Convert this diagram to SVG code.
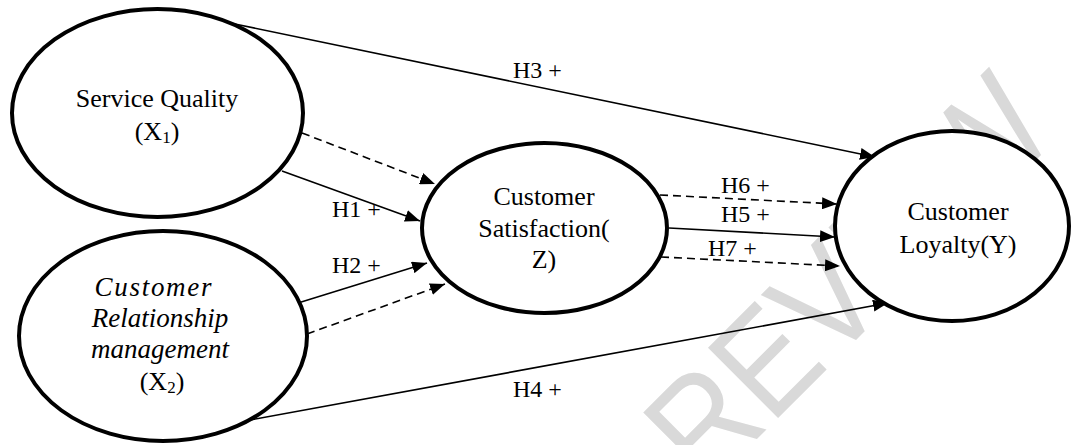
<svg xmlns="http://www.w3.org/2000/svg" width="1076" height="445" viewBox="0 0 1076 445">
<defs>
<marker id="ah" markerUnits="userSpaceOnUse" markerWidth="16" markerHeight="12" refX="15" refY="6" orient="auto">
<path d="M0,0 L15,6 L0,12 Z" fill="#000"/>
</marker>
<style>
.wm{font-family:"Liberation Sans",Arial,sans-serif;font-size:144px;fill:#d9d9d9}
.node ellipse{fill:#fff;stroke:#000;stroke-width:4}
.t{font-family:"Liberation Serif","Times New Roman",serif;font-size:26px;fill:#000;text-anchor:middle}
.it{font-style:italic;font-size:27px}
.sub{font-size:17px}
.lbl{font-family:"Liberation Serif","Times New Roman",serif;font-size:24px;fill:#000}
.c{stroke:#000;stroke-width:1.6;fill:none;marker-end:url(#ah)}
.d{stroke-dasharray:8 5}
</style>
</defs>
<rect width="1076" height="445" fill="#fff"/>
<text class="wm" transform="translate(706,490) rotate(-45) scale(0.88,1)">REVIEW</text>
<g id="connectors">
<line class="c" x1="230" y1="23" x2="875" y2="157"/>
<line class="c d" x1="302" y1="133" x2="435" y2="184"/>
<line class="c" x1="282" y1="171" x2="420" y2="221"/>
<line class="c" x1="298" y1="303" x2="427" y2="263"/>
<line class="c d" x1="307" y1="334" x2="445" y2="284"/>
<line class="c" x1="250" y1="420" x2="888" y2="303"/>
<line class="c d" x1="660" y1="195" x2="837" y2="204"/>
<line class="c" x1="669" y1="228" x2="835" y2="237"/>
<line class="c d" x1="661" y1="257" x2="840" y2="266"/>
</g>
<g id="sq" class="node">
<ellipse cx="157.5" cy="113" rx="145.5" ry="104"/>
<text class="t" x="157" y="107">Service Quality</text>
<text class="t" x="157" y="140">(X<tspan class="sub" dy="3">1</tspan><tspan dy="-3">)</tspan></text>
</g>
<g id="crm" class="node">
<ellipse cx="163" cy="336" rx="144" ry="105"/>
<text class="t it" x="153" y="296" textLength="117" lengthAdjust="spacing">Customer</text>
<text class="t it" x="160" y="327">Relationship</text>
<text class="t it" x="160" y="358">management</text>
<text class="t" x="162" y="390">(X<tspan class="sub" dy="3">2</tspan><tspan dy="-3">)</tspan></text>
</g>
<g id="cs" class="node">
<ellipse cx="544.5" cy="228" rx="122.5" ry="85"/>
<text class="t" x="544" y="205">Customer</text>
<text class="t" x="544" y="237">Satisfaction(</text>
<text class="t" x="544" y="268">Z)</text>
</g>
<g id="cl" class="node">
<ellipse cx="952" cy="226" rx="117" ry="95"/>
<text class="t" x="958" y="220">Customer</text>
<text class="t" x="958" y="253">Loyalty(Y)</text>
</g>
<g id="labels">
<text class="lbl" x="513" y="78">H3 +</text>
<text class="lbl" x="332" y="217">H1 +</text>
<text class="lbl" x="332" y="273">H2 +</text>
<text class="lbl" x="513" y="397">H4 +</text>
<text class="lbl" x="721" y="193">H6 +</text>
<text class="lbl" x="721" y="222">H5 +</text>
<text class="lbl" x="708" y="256">H7 +</text>
</g>
</svg>
